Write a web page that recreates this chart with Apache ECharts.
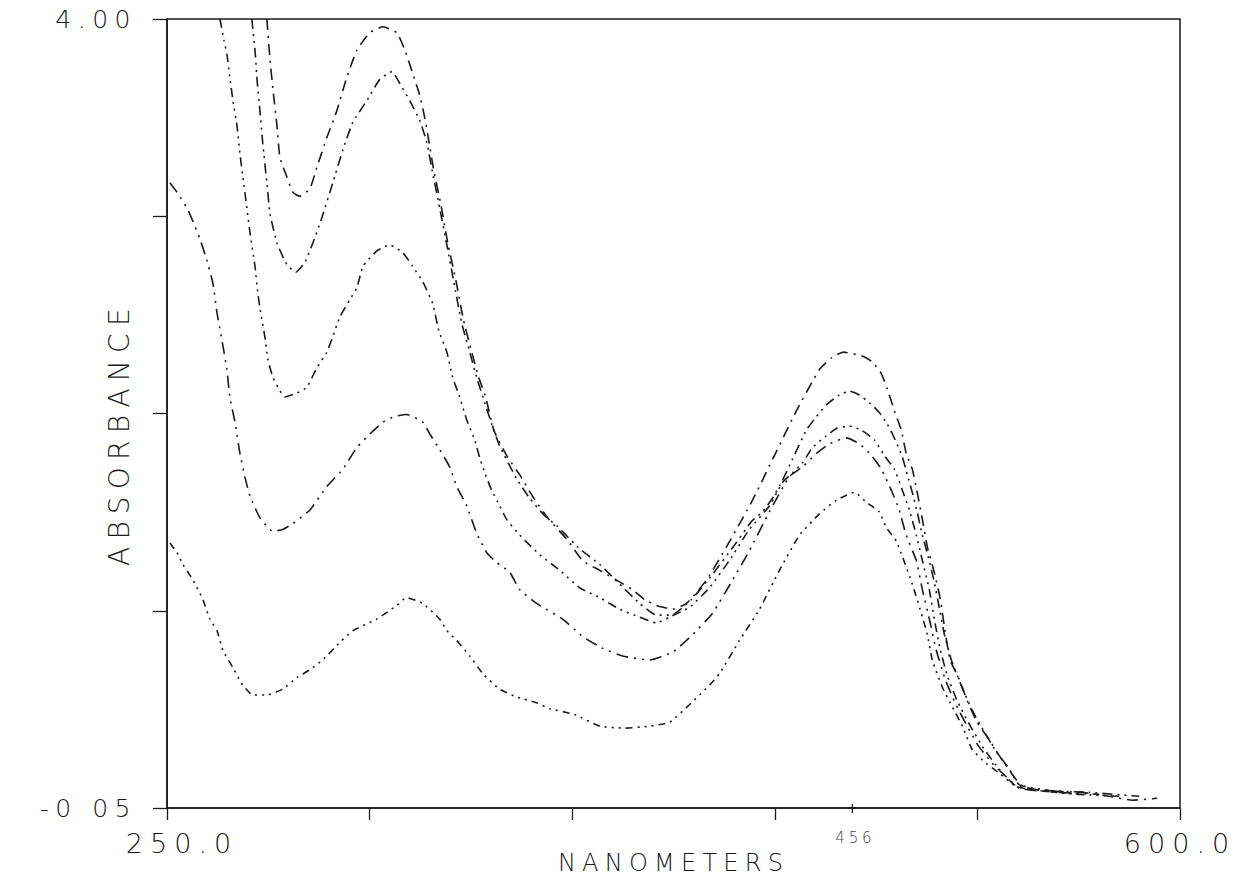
<!DOCTYPE html>
<html><head><meta charset="utf-8">
<script src="https://cdn.jsdelivr.net/npm/echarts@6/dist/echarts.min.js"></script>
<style>
html,body{margin:0;padding:0;background:#fff;}
#chart{width:1244px;height:880px;}
#chart text{letter-spacing:0.26em;}
</style></head><body><div id="chart"></div>
<script>
// Axis definition (nanometers / absorbance)
const xTicks = [250, 320, 390, 460, 530, 600];
const xTickLabels = ['250.0', '', '', '', '', '600.0'];
const yTicks = [-0.05, 0.9625, 1.975, 2.9875, 4.00];
const yTickLabels = ['-0 05', '', '', '', '4.00'];
const annotationNm = 486.8;
const annotationText = '456';

// Spectra [nm, absorbance]
const curveA = [[284.5,4.00],[285.6,3.79],[286.6,3.64],[288.0,3.45],[289.0,3.29],[291.4,3.19],[293.5,3.11],[295.9,3.09],[299.4,3.13],[301.8,3.24],[305.2,3.39],[308.7,3.53],[312.1,3.70],[315.6,3.84],[320.1,3.93],[324.6,3.96],[329.4,3.93],[332.2,3.84],[334.9,3.72],[337.3,3.61],[339.1,3.49],[340.4,3.38],[342.2,3.22],[344.6,3.05],[347.0,2.85],[349.8,2.66],[352.5,2.45],[355.3,2.29],[357.7,2.16],[360.1,2.06],[362.9,1.89],[367.7,1.75],[371.9,1.66],[376.3,1.55],[381.5,1.44],[388.1,1.33],[393.6,1.22],[399.5,1.17],[405.3,1.12],[410.9,1.07],[415.0,1.02],[419.1,0.99],[424.7,0.97],[429.5,1.00],[436.4,1.12],[443.3,1.29],[452.3,1.53],[459.9,1.76],[467.5,1.99],[475.4,2.20],[479.5,2.26],[483.7,2.29],[490.2,2.27],[493.7,2.24],[496.8,2.18],[498.9,2.10],[501.3,1.99],[503.7,1.89],[505.4,1.77],[507.5,1.69],[509.2,1.57],[511.0,1.43],[512.7,1.29],[515.1,1.16],[517.2,1.02],[518.9,0.85],[520.6,0.71],[523.7,0.61],[526.5,0.50],[529.9,0.39],[534.1,0.30],[537.5,0.22],[541.7,0.13],[545.5,0.06],[552.4,0.04],[566.2,0.03],[575.5,0.01],[583.5,-0.01],[592.1,0.00]];

const curveB = [[279.3,4.00],[280.4,3.84],[281.1,3.69],[282.1,3.53],[283.1,3.36],[284.5,3.16],[285.6,3.00],[288.0,2.85],[291.4,2.74],[294.5,2.70],[297.6,2.75],[300.4,2.85],[303.5,2.98],[307.3,3.16],[310.8,3.33],[314.2,3.47],[319.0,3.58],[323.5,3.69],[327.7,3.73],[330.4,3.67],[333.9,3.58],[337.3,3.48],[339.7,3.37],[341.8,3.21],[344.2,3.03],[346.7,2.84],[349.1,2.65],[351.8,2.44],[354.6,2.29],[357.0,2.16],[359.8,2.03],[362.2,1.92],[364.9,1.81],[370.8,1.64],[375.3,1.54],[380.5,1.45],[384.6,1.40],[392.6,1.28],[399.5,1.20],[406.4,1.10],[413.3,1.00],[419.1,0.94],[424.3,0.94],[431.2,1.02],[438.5,1.15],[446.1,1.30],[451.9,1.42],[455.7,1.47],[459.2,1.54],[462.6,1.63],[466.1,1.74],[470.9,1.89],[474.4,1.96],[477.8,2.02],[482.3,2.07],[485.8,2.09],[489.2,2.07],[492.7,2.03],[496.1,1.98],[498.9,1.92],[501.6,1.84],[504.1,1.75],[505.8,1.66],[507.5,1.57],[509.2,1.47],[511.0,1.35],[513.0,1.24],[515.1,1.11],[516.8,0.98],[518.6,0.84],[521.0,0.71],[524.4,0.58],[527.9,0.46],[532.4,0.34],[536.5,0.24],[541.0,0.15],[544.4,0.07],[554.8,0.04],[568.6,0.03],[585.9,0.01]];

const curveC = [[268.3,4.00],[269.7,3.89],[270.7,3.82],[271.7,3.70],[272.8,3.58],[274.2,3.45],[275.2,3.31],[276.2,3.19],[277.6,3.03],[278.7,2.90],[280.4,2.73],[281.4,2.59],[282.4,2.49],[283.8,2.37],[284.9,2.25],[286.6,2.16],[288.3,2.11],[290.7,2.06],[294.9,2.08],[298.3,2.11],[301.8,2.21],[305.2,2.29],[307.3,2.37],[309.7,2.47],[313.2,2.56],[315.6,2.62],[317.7,2.73],[322.5,2.81],[327.0,2.84],[331.5,2.80],[334.9,2.73],[338.4,2.65],[341.8,2.54],[343.9,2.40],[346.7,2.29],[348.7,2.16],[351.1,2.06],[353.6,1.94],[356.3,1.84],[358.0,1.75],[359.8,1.67],[362.2,1.58],[364.3,1.52],[367.4,1.43],[371.9,1.35],[378.8,1.25],[385.7,1.17],[392.6,1.08],[399.5,1.03],[406.4,0.97],[413.3,0.93],[419.1,0.90],[423.6,0.93],[430.5,0.98],[437.4,1.08],[444.3,1.22],[451.2,1.38],[458.1,1.50],[462.6,1.62],[466.1,1.67],[469.5,1.72],[473.0,1.80],[477.8,1.86],[481.6,1.90],[485.8,1.91],[489.9,1.89],[494.4,1.84],[497.8,1.76],[501.3,1.69],[504.1,1.58],[506.5,1.48],[508.9,1.35],[511.0,1.22],[513.4,1.07],[515.1,0.92],[517.2,0.76],[519.6,0.63],[523.0,0.50],[527.2,0.38],[532.4,0.25],[537.5,0.15],[542.7,0.07],[551.3,0.04],[565.2,0.02],[579.0,0.01]];

const curveD = [[251.0,3.16],[253.5,3.11],[256.9,3.03],[259.0,2.96],[261.4,2.87],[263.8,2.76],[265.9,2.64],[267.3,2.49],[269.0,2.35],[270.7,2.20],[271.7,2.06],[273.5,1.93],[275.2,1.77],[276.9,1.65],[278.7,1.55],[282.1,1.44],[286.6,1.37],[290.0,1.38],[293.5,1.41],[299.4,1.48],[305.2,1.60],[310.8,1.69],[315.6,1.80],[320.1,1.87],[324.6,1.93],[328.7,1.96],[332.8,1.97],[338.4,1.93],[340.8,1.87],[344.2,1.79],[347.7,1.70],[350.1,1.60],[353.6,1.50],[357.0,1.36],[360.5,1.26],[363.9,1.21],[368.4,1.16],[371.9,1.07],[377.7,1.00],[386.7,0.92],[393.6,0.83],[400.5,0.77],[407.4,0.73],[416.7,0.71],[424.7,0.75],[431.6,0.84],[438.5,0.95],[445.4,1.12],[451.2,1.27],[458.1,1.47],[465.0,1.65],[469.5,1.70],[474.4,1.77],[478.9,1.82],[484.7,1.85],[489.2,1.82],[493.4,1.76],[496.8,1.69],[500.3,1.58],[503.0,1.48],[505.4,1.35],[508.9,1.22],[511.0,1.07],[513.4,0.92],[515.8,0.76],[518.9,0.61],[522.3,0.49],[526.1,0.38],[530.3,0.27],[535.1,0.18],[540.0,0.11],[544.8,0.05],[558.2,0.03],[572.1,0.02]];

const curveE = [[251.0,1.31],[253.5,1.26],[255.5,1.20],[259.0,1.12],[262.4,1.02],[264.8,0.92],[267.3,0.86],[269.3,0.76],[272.8,0.67],[276.2,0.58],[279.7,0.53],[284.5,0.53],[290.0,0.56],[294.9,0.62],[299.4,0.66],[303.8,0.71],[309.7,0.80],[314.2,0.86],[322.5,0.92],[329.4,0.99],[332.8,1.03],[338.4,1.00],[344.2,0.92],[346.7,0.86],[350.1,0.81],[354.6,0.73],[359.1,0.64],[364.9,0.56],[370.8,0.52],[377.7,0.49],[382.2,0.46],[390.8,0.43],[399.5,0.37],[408.1,0.36],[416.7,0.37],[423.6,0.39],[430.5,0.48],[437.4,0.58],[440.9,0.64],[447.8,0.81],[454.7,0.97],[461.6,1.17],[468.5,1.35],[475.4,1.46],[481.3,1.53],[487.5,1.57],[491.6,1.52],[496.1,1.47],[498.5,1.39],[502.0,1.32],[504.1,1.24],[507.5,1.10],[511.0,0.93],[512.7,0.84],[514.4,0.71],[517.9,0.57],[521.3,0.47],[524.8,0.37],[528.2,0.25],[533.0,0.18],[537.5,0.13],[543.4,0.06],[551.3,0.04],[565.2,0.02]];

const curves = [
  {name: 'A', data: curveA, dash: [11, 6, 2, 6]},
  {name: 'B', data: curveB, dash: [10, 5, 2, 5, 2, 5]},
  {name: 'C', data: curveC, dash: [9, 5, 2, 5, 2, 5, 2, 5]},
  {name: 'D', data: curveD, dash: [12, 6, 2, 6, 2, 6]},
  {name: 'E', data: curveE, dash: [7, 5, 2, 5, 2, 5, 2, 5]}
];

const FONT = 'DejaVu Sans';
const INK = '#1a1a1a';

const chart = echarts.init(document.getElementById('chart'), null, {renderer: 'svg'});
chart.setOption({
  animation: false,
  backgroundColor: '#fff',
  grid: {left: 167, right: 64, top: 19, bottom: 72, outerBoundsMode: 'none', containLabel: false,
    show: true, borderColor: INK, borderWidth: 1.5, backgroundColor: 'transparent'},
  xAxis: {
    type: 'value', min: xTicks[0], max: xTicks[xTicks.length - 1], interval: xTicks[1] - xTicks[0],
    name: 'NANOMETERS', nameLocation: 'middle', nameGap: 43, nameMoveOverlap: false,
    nameTextStyle: {fontFamily: FONT, fontSize: 24, fontWeight: 200, color: INK},
    axisLine: {show: true, onZero: false, lineStyle: {color: INK, width: 1.5}},
    axisTick: {show: true, inside: false, length: 12, lineStyle: {color: INK, width: 1.3}},
    axisLabel: {show: true, margin: 22, fontFamily: FONT, fontSize: 27, fontWeight: 200, color: INK,
      showMinLabel: true, showMaxLabel: true, hideOverlap: false,
      rich: {first: {fontFamily: FONT, fontSize: 27, fontWeight: 200, color: INK, padding: [0, 0, 0, 30]}},
      formatter: function (v) {
        const i = xTicks.findIndex(t => Math.abs(t - v) < 1e-6);
        if (i < 0) return '';
        return i === 0 ? '{first|' + xTickLabels[i] + '}' : xTickLabels[i];
      }},
    splitLine: {show: false}
  },
  yAxis: {
    type: 'value', min: yTicks[0], max: yTicks[yTicks.length - 1], interval: yTicks[1] - yTicks[0],
    name: 'ABSORBANCE', nameLocation: 'middle', nameRotate: 90, nameGap: 34, nameMoveOverlap: false,
    nameTextStyle: {fontFamily: FONT, fontSize: 28, fontWeight: 200, color: INK, padding: [0, 40, 0, 0]},
    axisLine: {show: true, onZero: false, lineStyle: {color: INK, width: 1.5}},
    axisTick: {show: true, inside: false, length: 14, lineStyle: {color: INK, width: 1.3}},
    axisLabel: {show: true, margin: 30, fontFamily: FONT, fontSize: 25, fontWeight: 200, color: INK,
      showMinLabel: true, showMaxLabel: true, hideOverlap: false,
      formatter: function (v) { const i = yTicks.findIndex(t => Math.abs(t - v) < 1e-4); return i >= 0 ? yTickLabels[i] : ''; }},
    splitLine: {show: false}
  },
  series: curves.map(c => ({
    type: 'line', name: c.name, data: c.data, showSymbol: false, smooth: 0.15, silent: true, clip: true,
    lineStyle: {color: INK, width: 1.6, type: c.dash}
  }))
});

// handwritten wavelength marker on the x axis
const p = chart.convertToPixel({gridIndex: 0}, [annotationNm, yTicks[0]]);
chart.setOption({
  graphic: [
    {type: 'line', shape: {x1: p[0], y1: p[1] - 4, x2: p[0], y2: p[1] + 5}, style: {stroke: INK, lineWidth: 1.3}},
    {type: 'line', shape: {x1: p[0] - 4, y1: p[1], x2: p[0] + 4, y2: p[1]}, style: {stroke: INK, lineWidth: 1.3}},
    {type: 'text', x: p[0] + 3, y: p[1] + 30, style: {text: annotationText, fill: '#444', font: '200 15px "DejaVu Sans"', textAlign: 'center', textVerticalAlign: 'middle'}}
  ]
});
</script></body></html>
